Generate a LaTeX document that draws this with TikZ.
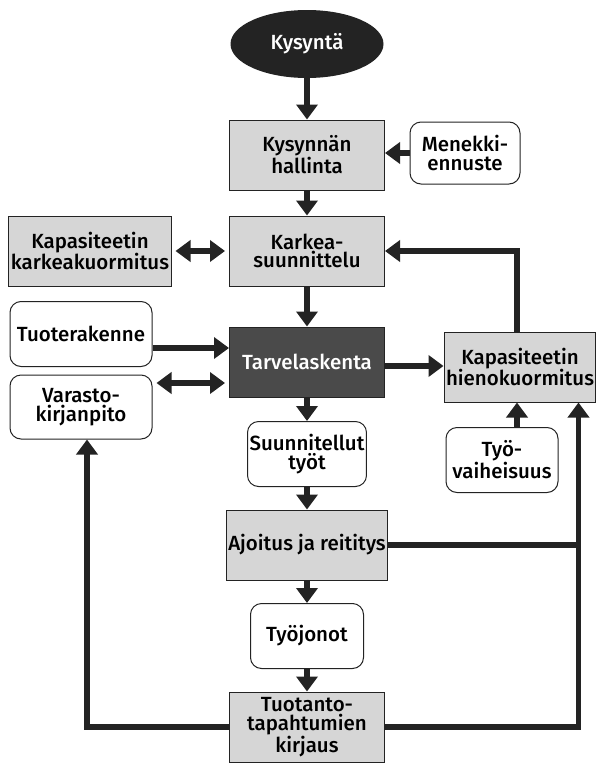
\documentclass[tikz,border=0pt]{standalone}
\usepackage{fontspec}
\setmainfont{Fira Sans}[BoldFont={Fira Sans Medium}]
\usetikzlibrary{shapes.geometric, arrows.meta, calc}
\definecolor{clrBox}{RGB}{214,214,214}
\definecolor{clrDark}{RGB}{74,74,74}
\definecolor{clrLine}{RGB}{35,35,35}

\begin{document}
\begin{tikzpicture}[
  x=1pt, y=-1pt,
  main/.style={rectangle, draw=clrLine, line width=1pt,
               font=\fontsize{20.5}{18.8}\selectfont\bfseries,
               align=center, inner sep=2pt,
               minimum width=155pt, minimum height=70pt},
  grbox/.style={main, fill=clrBox},
  darkbox/.style={main, fill=clrDark, text=white},
  rbox/.style={main, rounded corners=11pt, fill=white,
               minimum width=113pt, minimum height=65pt},
  arr/.style={-{Triangle[length=15pt,width=21pt]}, line width=5.5pt,
              color=clrLine},
  darr/.style={{Triangle[length=15pt,width=21pt]}-{Triangle[length=15pt,width=21pt]},
               line width=5.5pt, color=clrLine, shorten <=4pt, shorten >=4pt},
  line/.style={line width=5.5pt, color=clrLine}
]
\useasboundingbox (0,0) rectangle (595,763);

\node[ellipse, fill=clrLine, text=white, inner sep=0pt,
      font=\fontsize{20.5}{18.8}\selectfont\bfseries,
      minimum width=153pt, minimum height=68pt] (kysynta) at (307,44) {Kysyntä};
\node[grbox] (hallinta) at (307,155) {Kysynnän\\hallinta};
\node[rbox, minimum width=110pt, minimum height=62pt] (menekki) at (465,153)
      {Menekki-\\ennuste};
\node[grbox] (karkea) at (307,251) {Karkea-\\suunnittelu};
\node[grbox] (kapkarkea) at (90,251) {Kapasiteetin\\karkeakuormitus};
\node[rbox, minimum width=142pt] (tuote) at (81,334) {Tuoterakenne};
\node[darkbox] (tarve) at (307,362) {Tarvelaskenta};
\node[rbox, minimum width=142pt, minimum height=64pt] (varasto) at (81,407)
      {Varasto-\\kirjanpito};
\node[grbox, minimum width=147pt] (hieno) at (520,367)
      {Kapasiteetin\\hienokuormitus};
\node[rbox, minimum width=112pt] (tyo) at (502,460) {Työ-\\vaiheisuus};
\node[rbox] (suunn) at (307,454) {Suunnitellut\\työt};
\node[grbox] (ajoitus) at (307,545) {Ajoitus ja reititys};
\node[rbox] (jonot) at (307,636) {Työjonot};
\node[grbox] (kirjaus) at (307,727) {Tuotanto-\\tapahtumien\\kirjaus};

% main column
\draw[arr] (kysynta) -- (hallinta);
\draw[arr] (hallinta) -- (karkea);
\draw[arr] (karkea) -- (tarve);
\draw[arr] (tarve) -- (suunn);
\draw[arr] (suunn) -- (ajoitus);
\draw[arr] (ajoitus) -- (jonot);
\draw[arr] (jonot) -- (kirjaus);

\draw[arr] (menekki.west) -- (menekki.west -| hallinta.east);
\draw[darr] (kapkarkea) -- (karkea);
\draw[arr] ([yshift=-14pt]tuote.east) -- ([yshift=-14pt]tuote.east -| tarve.west);
\draw[darr] ([yshift=-21pt]tarve.west -| varasto.east) -- ([yshift=-21pt]tarve.west);
\draw[arr] ([yshift=-4pt]tarve.east) -- ([yshift=-4pt]tarve.east -| hieno.west);
\draw[arr] ([xshift=-3pt]hieno.north) |- (karkea.east);
\draw[arr] ([xshift=15pt]tyo.north) -- ([xshift=15pt]tyo.north |- hieno.south);

% feedback from the shop floor
\coordinate (bus) at ([xshift=-18pt]hieno.south east);
\draw[arr] (kirjaus.east) -| (bus);
\draw[line] (ajoitus.east) -- (ajoitus.east -| bus);
\draw[arr] (kirjaus.west) -| ([xshift=6pt]varasto.south);

\end{tikzpicture}
\end{document}
